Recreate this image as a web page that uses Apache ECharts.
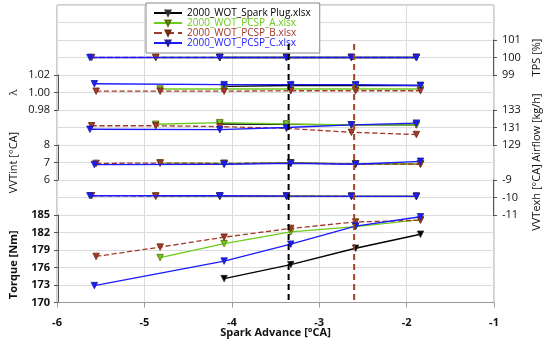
<!DOCTYPE html>
<html><head><meta charset="utf-8">
<script src="https://cdn.jsdelivr.net/npm/echarts@6/dist/echarts.min.js"></script>
<style>html,body{margin:0;padding:0;background:#fff}#c{width:550px;height:344px}</style>
</head><body><div id="c"></div>
<script>
// ---- data ----
const files = ['2000_WOT_Spark Plug.xlsx','2000_WOT_PCSP_A.xlsx','2000_WOT_PCSP_B.xlsx','2000_WOT_PCSP_C.xlsx'];
const xSpark = [-4.12, -3.35, -2.6, -1.85];
const xA = [-4.86, -4.12, -3.35, -2.6, -1.85];
const xB = [-5.6, -4.86, -4.12, -3.35, -2.6, -1.85];
const xC = [-5.62, -4.12, -3.35, -2.6, -1.85];

const tpsSpark = [100, 100, 100, 100];
const tpsA = [100, 100, 100, 100, 100];
const tpsB = [100, 100, 100, 100, 100, 100];
const tpsC = [100, 100, 100, 100, 100];

const lambdaSpark = [1.007, 1.008, 1.008, 1.008];
const lambdaA = [1.004, 1.004, 1.004, 1.004, 1.004];
const lambdaB = [1.0015, 1.0015, 1.0015, 1.002, 1.002, 1.002];
const lambdaC = [1.010, 1.009, 1.009, 1.009, 1.008];

const airSpark = [131.4, 131.35, 131.3, 131.3];
const airA = [131.37, 131.55, 131.4, 131.3, 131.3];
const airB = [131.2, 131.2, 131.1, 130.9, 130.45, 130.2];
const airC = [130.8, 130.75, 131.0, 131.3, 131.5];

const vvtiSpark = [6.92, 6.98, 6.92, 6.92];
const vvtiA = [6.97, 6.95, 6.96, 6.92, 6.93];
const vvtiB = [6.95, 6.97, 6.95, 6.97, 6.91, 6.9];
const vvtiC = [6.88, 6.9, 6.95, 6.9, 7.07];

const vvteSpark = [-9.93, -9.92, -9.93, -9.93];
const vvteA = [-9.92, -9.92, -9.92, -9.93, -9.93];
const vvteB = [-9.9, -9.92, -9.92, -9.92, -9.93, -9.93];
const vvteC = [-9.9, -9.9, -9.92, -9.93, -9.93];

const torqueSpark = [174.1, 176.5, 179.3, 181.7];
const torqueA = [177.7, 180.1, 182.1, 183.0, 184.2];
const torqueB = [177.9, 179.5, 181.2, 182.7, 183.8, 184.1];
const torqueC = [172.9, 177.1, 180.0, 183.1, 184.7];

const vLines = [-3.35, -2.6];
const xTicks = [-6, -5, -4, -3, -2, -1];

// ---- styles ----
const colors = ['#000000', '#6ccc1a', '#a3392a', '#1a1aff'];
const markerBorder = ['#333', '#556b00', '#6b2a10', '#20209a'];
const lineTypes = ['solid', 'solid', 'dashed', 'solid'];
const vColors = ['#000000', '#a0441e'];
const FONT = 'Open Sans';

const xs = [xSpark, xA, xB, xC];
const panels = [
  {name:'TPS [%]', pos:'right', min:99, max:101, interval:1, top:40, bottom:75, data:[tpsSpark,tpsA,tpsB,tpsC], dec:0},
  {name:'λ', pos:'left', min:0.98, max:1.02, interval:0.02, top:75, bottom:110, data:[lambdaSpark,lambdaA,lambdaB,lambdaC], dec:2},
  {name:'Airflow [kg/h]', pos:'right', min:129, max:133, interval:2, top:110, bottom:145, data:[airSpark,airA,airB,airC], dec:0},
  {name:'VVTint [°CA]', pos:'left', min:6, max:8, interval:1, top:145, bottom:180, data:[vvtiSpark,vvtiA,vvtiB,vvtiC], dec:0},
  {name:'VVTexh [°CA]', pos:'right', min:-11, max:-9, interval:1, top:180, bottom:215, data:[vvteSpark,vvteA,vvteB,vvteC], dec:0},
  {name:'Torque [Nm]', pos:'left', min:170, max:185, interval:3, top:215, bottom:302.5, data:[torqueSpark,torqueA,torqueB,torqueC], dec:0, bold:true}
];

const H = 344, L = 57, R = 56;
const grid = [{left:L, right:R, top:5, bottom:H-302.5, show:true, borderColor:'#a0a0a0', borderWidth:1, backgroundColor:'transparent'}];
const xAxis = [{
  gridIndex:0, type:'value', min:-6, max:-1, interval:1,
  name:'Spark Advance [°CA]', nameLocation:'middle', nameGap:30.5, nameMoveOverlap:false,
  nameTextStyle:{fontFamily:FONT, fontSize:11, fontWeight:'bold', color:'#111', verticalAlign:'middle'},
  axisLine:{show:true, lineStyle:{color:'#999'}},
  axisTick:{show:true, length:5, lineStyle:{color:'#999'}},
  axisLabel:{margin:15, fontFamily:FONT, fontSize:11, fontWeight:'bold', color:'#111',
    formatter:v => xTicks.includes(v) ? String(v) : ''},
  splitLine:{show:true, lineStyle:{color:'#dcdcdc'}}
}];
const yAxis = [{gridIndex:0, type:'value', min:0, max:17, interval:1, axisLine:{show:false}, axisTick:{show:false}, axisLabel:{show:false}, splitLine:{show:true, lineStyle:{color:'#dcdcdc'}}}];
const series = [];

panels.forEach((p, i) => {
  const gi = grid.length;
  grid.push({left:L, right:R, top:p.top, bottom:H-p.bottom});
  xAxis.push({gridIndex:gi, type:'value', min:-6, max:-1, show:false});
  const isLeft = p.pos === 'left';
  yAxis.push({
    gridIndex:gi, type:'value', position:p.pos, min:p.min, max:p.max, interval:p.interval,
    offset: isLeft ? 3.5 : 3,
    name:p.name, nameLocation:'middle', nameGap: isLeft ? 39 : 38, nameRotate:90, nameMoveOverlap:false,
    nameTextStyle:{fontFamily:FONT, fontSize:11, color:'#111', fontWeight:p.bold?'bold':'normal',
      padding: p.bold ? [0, 0, 0, -12] : 0},
    axisLine:{show:true, onZero:false, lineStyle:{color:'#555'}},
    axisTick:{show:true, length:4, lineStyle:{color:'#555'}},
    axisLabel:{margin: isLeft ? 8 : 9, fontFamily:FONT, fontSize:11, color:'#111', fontWeight:p.bold?'bold':'normal',
      formatter:v => v.toFixed(p.dec)},
    splitLine:{show:false}
  });
  for (let k = 0; k < 4; k++) {
    series.push({
      type:'line', name:files[k], xAxisIndex:gi, yAxisIndex:gi,
      data: xs[k].map((x, j) => [x, p.data[k][j]]),
      symbol:'triangle', symbolRotate:180, symbolSize:6.5, clip:false,
      itemStyle:{color:colors[k], borderColor:markerBorder[k], borderWidth:0.8},
      lineStyle:{color:colors[k], width:1.3, type:lineTypes[k]},
      emphasis:{disabled:true}, animation:false, z:3+k
    });
  }
});

// vertical dashed lines
const gv = grid.length;
grid.push({left:L, right:R, top:44, bottom:H-302.5});
xAxis.push({gridIndex:gv, type:'value', min:-6, max:-1, show:false});
yAxis.push({gridIndex:gv, type:'value', min:0, max:1, show:false});
vLines.forEach((x, i) => {
  series.push({type:'line', xAxisIndex:gv, yAxisIndex:gv, data:[[x,1],[x,0]], symbol:'none',
    lineStyle:{color:vColors[i], width:2, type:[6,4]}, animation:false, z:20, silent:true});
});

const chart = echarts.init(document.getElementById('c'), null, {renderer:'canvas'});
chart.setOption({
  animation:false,
  grid, xAxis, yAxis, series,
  legend:{
    orient:'vertical', left:146, top:3, backgroundColor:'#fff', borderColor:'#888', borderWidth:1,
    padding:[5, 9, 5, 7], itemWidth:28, itemHeight:6, itemGap:0, z:2,
    textStyle:{fontFamily:FONT, fontSize:10, lineHeight:10},
    data: files.map((f, k) => ({name:f, textStyle:{color: colors[k]}}))
  }
});
</script></body></html>
